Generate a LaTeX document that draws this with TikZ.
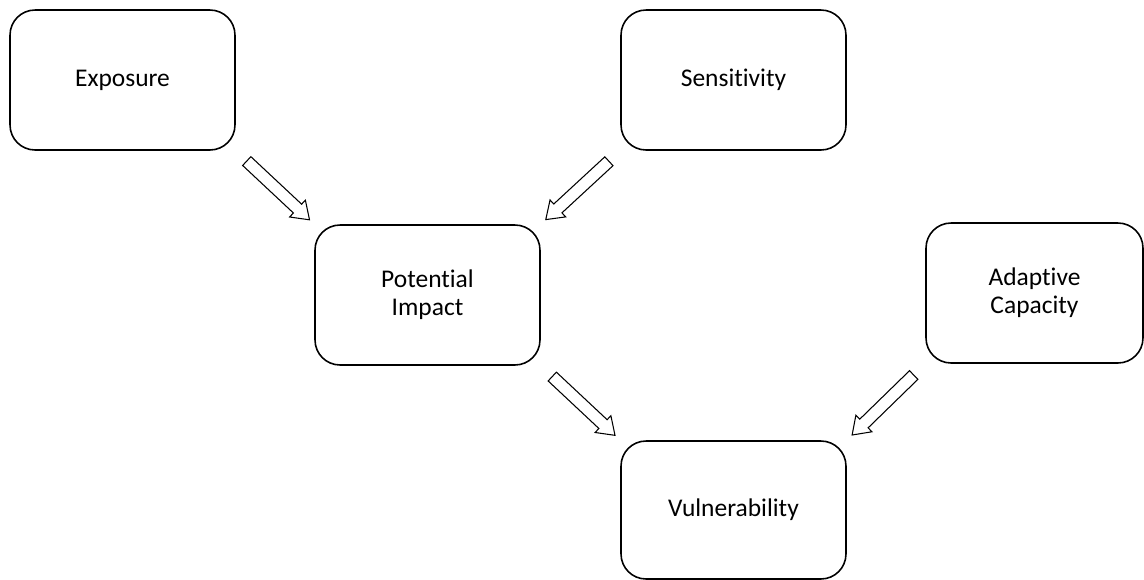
\documentclass[tikz,border=0pt]{standalone}
\usepackage{fontspec}
\setmainfont{Carlito}[Ligatures=NoCommon]
\usetikzlibrary{shapes.arrows}
\begin{document}
\begin{tikzpicture}[x=0.02cm,y=-0.02cm,
	box/.style={draw,line width=0.9pt,rounded corners=0.5cm,minimum width=4.5cm,minimum height=2.8cm,align=center,font=\fontsize{14.5}{15.8}\selectfont},
	fat/.style={draw,line width=0.6pt,single arrow,inner xsep=0pt,inner ysep=0.11cm,minimum width=0.44cm,minimum height=1.72cm,single arrow head extend=0.11cm,single arrow tip angle=70,sloped,allow upside down}]
	  \useasboundingbox (0,0) rectangle (1144,579);
	  \node[box] (expo) at (122.5,80) {Exposure};
	  \node[box] (sens) at (733.5,80) {Sensitivity};
	  \node[box] (impact) at (427.5,295) {Potential\\Impact};
	  \node[box,minimum width=4.34cm] (adapt) at (1034.5,293) {Adaptive\\Capacity};
	  \node[box,minimum height=2.76cm] (vuln) at (733.5,510) {Vulnerability};
	  \path (expo.south east) -- node[fat] (a1) {} (impact.north west);
	  \path (sens.south west) -- node[fat] (a2) {} (impact.north east);
	  \path (impact.south east) -- node[fat] (a3) {} (vuln.north west);
	  \path (adapt.south west) -- node[fat] (a4) {} (vuln.north east);
	\end{tikzpicture}
\end{document}
